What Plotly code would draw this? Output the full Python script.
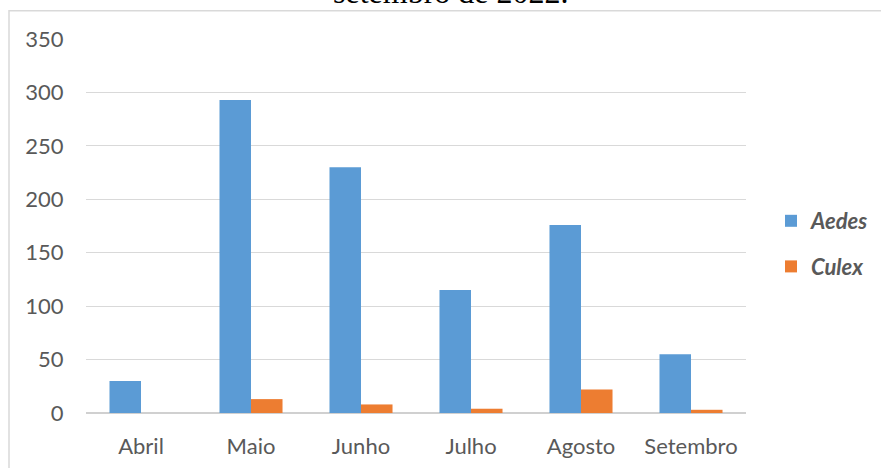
import plotly.graph_objects as go

months = ["Abril", "Maio", "Junho", "Julho", "Agosto", "Setembro"]
aedes = [30, 293, 230, 115, 176, 55]
culex = [0, 13, 8, 4, 22, 3]
y_ticks = [0, 50, 100, 150, 200, 250, 300, 350]

W, H = 881, 468
L, R = 86, 746
T, B = 39.3, 413.5
pw, ph = R - L, B - T

def px(x):
    return (x - L) / pw

def py(y):
    return (B - y) / ph

fig = go.Figure()
fig.add_trace(go.Bar(
    x=months, y=aedes, name="<i><b>Aedes</b></i>",
    marker=dict(color="#5B9BD5", line=dict(width=0)),
    legendgroup="a",
))
fig.add_trace(go.Bar(
    x=months, y=culex, name="<i><b>Culex</b></i>",
    marker=dict(color="#ED7D31", line=dict(width=0)),
    legendgroup="c",
))

font_family = "Lato"
fig.update_layout(
    width=W, height=H,
    margin=dict(l=L, r=W - R, t=T, b=H - B, pad=0, autoexpand=False),
    paper_bgcolor="white", plot_bgcolor="white",
    barmode="group", bargap=0.427, bargroupgap=0,
    font=dict(family=font_family, size=22, color="#595959"),
    showlegend=True,
    legend=dict(
        xref="container", yref="container",
        x=771 / W, xanchor="left", y=1 - 244 / H, yanchor="middle",
        font=dict(family=font_family, size=22, color="#595959"),
        traceorder="grouped", tracegroupgap=14,
        bgcolor="rgba(0,0,0,0)",
    ),
    xaxis=dict(
        automargin=False,
        showgrid=False, showline=False, zeroline=False,
        ticks="outside", ticklen=14, tickcolor="rgba(0,0,0,0)",
        tickfont=dict(size=22, color="#595959"),
    ),
    yaxis=dict(
        automargin=False,
        range=[0, 350], tickvals=y_ticks,
        showgrid=True, gridcolor="#D9D9D9", gridwidth=1,
        zeroline=True, zerolinecolor="#D0D0D0", zerolinewidth=1.5,
        showline=False,
        ticks="outside", ticklen=17, tickcolor="rgba(0,0,0,0)",
        tickfont=dict(size=22, color="#595959"),
    ),
    shapes=[dict(
        type="rect", xref="paper", yref="paper",
        x0=px(9), x1=px(900), y0=py(11), y1=py(490),
        line=dict(color="#D9D9D9", width=1.5), fillcolor="rgba(0,0,0,0)",
        layer="below",
    )],
    annotations=[dict(
        text="setembro de 2022.", xref="paper", yref="paper",
        x=px(451), y=py(-8), xanchor="center", yanchor="middle",
        showarrow=False,
        font=dict(family="Liberation Serif", size=32, color="black"),
    )],
)

fig.write_html("out.html")
